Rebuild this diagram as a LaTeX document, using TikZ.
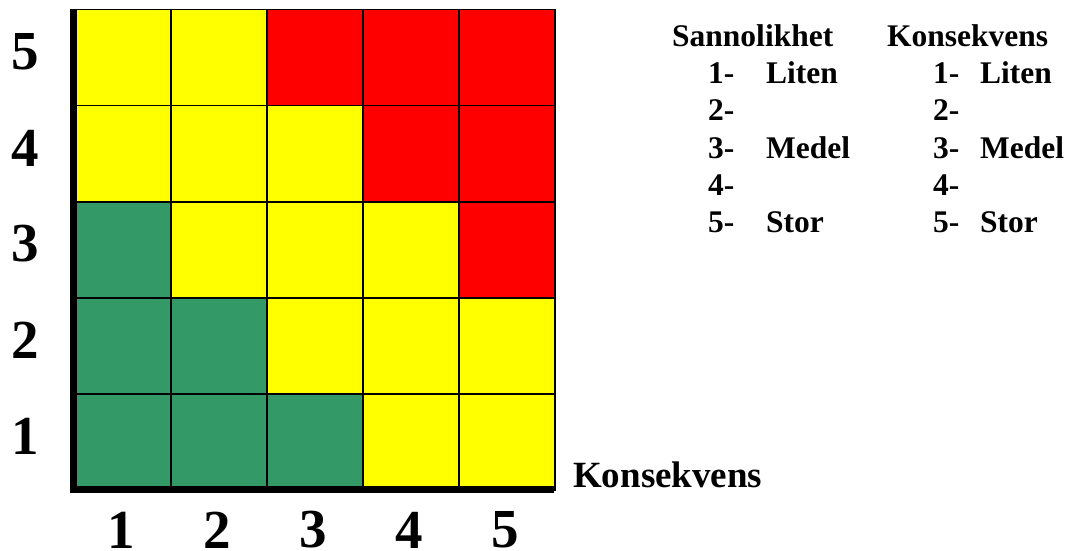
\documentclass[tikz,border=0pt]{standalone}
\usepackage{fontspec}
\setmainfont{Liberation Serif}
\definecolor{cyel}{RGB}{255,255,0}
\definecolor{cred}{RGB}{255,0,0}
\definecolor{cgrn}{RGB}{51,153,102}
\begin{document}
\begin{tikzpicture}[x=1pt,y=-1pt,
  cell/.style={draw=black,line width=1.5pt,minimum width=96pt,minimum height=96pt,inner sep=0pt,anchor=north west},
  axnum/.style={font=\fontsize{55}{55}\selectfont\bfseries,inner sep=0pt},
  leg/.style={font=\fontsize{31.5}{31.5}\selectfont\bfseries,inner sep=0pt,anchor=base west}]
\useasboundingbox (0,0) rectangle (1069,551);
% grid cells: row 5 (top) to row 1
\foreach \r/\cols in {5/{cyel,cyel,cred,cred,cred},4/{cyel,cyel,cyel,cred,cred},3/{cgrn,cyel,cyel,cyel,cred},2/{cgrn,cgrn,cyel,cyel,cyel},1/{cgrn,cgrn,cgrn,cyel,cyel}}{
  \foreach \c [count=\i] in \cols {
    \node[cell,fill=\c] (c\i\r) at ({74+96*(\i-1)},{489-96*\r}) {};
  }
}
% axes
\coordinate (axtop) at (73.5,9);
\coordinate (axcorner) at (73.5,489.5);
\coordinate (axright) at (554,489.5);
\draw[line width=7pt] (axtop) -- (axcorner) -- (axright);
% y labels
\node[axnum] (y5) at (25,52) {5};
\node[axnum] (y4) at (25,148) {4};
\node[axnum] (y3) at (25,244) {3};
\node[axnum] (y2) at (25,340) {2};
\node[axnum] (y1) at (25,436) {1};
% x labels
\node[axnum] (x1) at (121,530) {1};
\node[axnum] (x2) at (217,530) {2};
\node[axnum] (x3) at (313,530) {3};
\node[axnum] (x4) at (409,530) {4};
\node[axnum] (x5) at (505,530) {5};
\node[font=\fontsize{37}{37}\selectfont\bfseries,inner sep=0pt,anchor=base west] (kons) at (573,487) {Konsekvens};
% legend
\node[leg] (lh1) at (672,47) {Sannolikhet};
\node[leg] (lh2) at (887,47) {Konsekvens};
\foreach \k/\t in {1/Liten,2/{},3/Medel,4/{},5/Stor}{
  \node[leg] (la\k) at (708,{47+37*\k}) {\k-};
  \node[leg] (lb\k) at (766,{47+37*\k}) {\t};
  \node[leg] (lc\k) at (933,{47+37*\k}) {\k-};
  \node[leg] (ld\k) at (980,{47+37*\k}) {\t};
}
\end{tikzpicture}
\end{document}
